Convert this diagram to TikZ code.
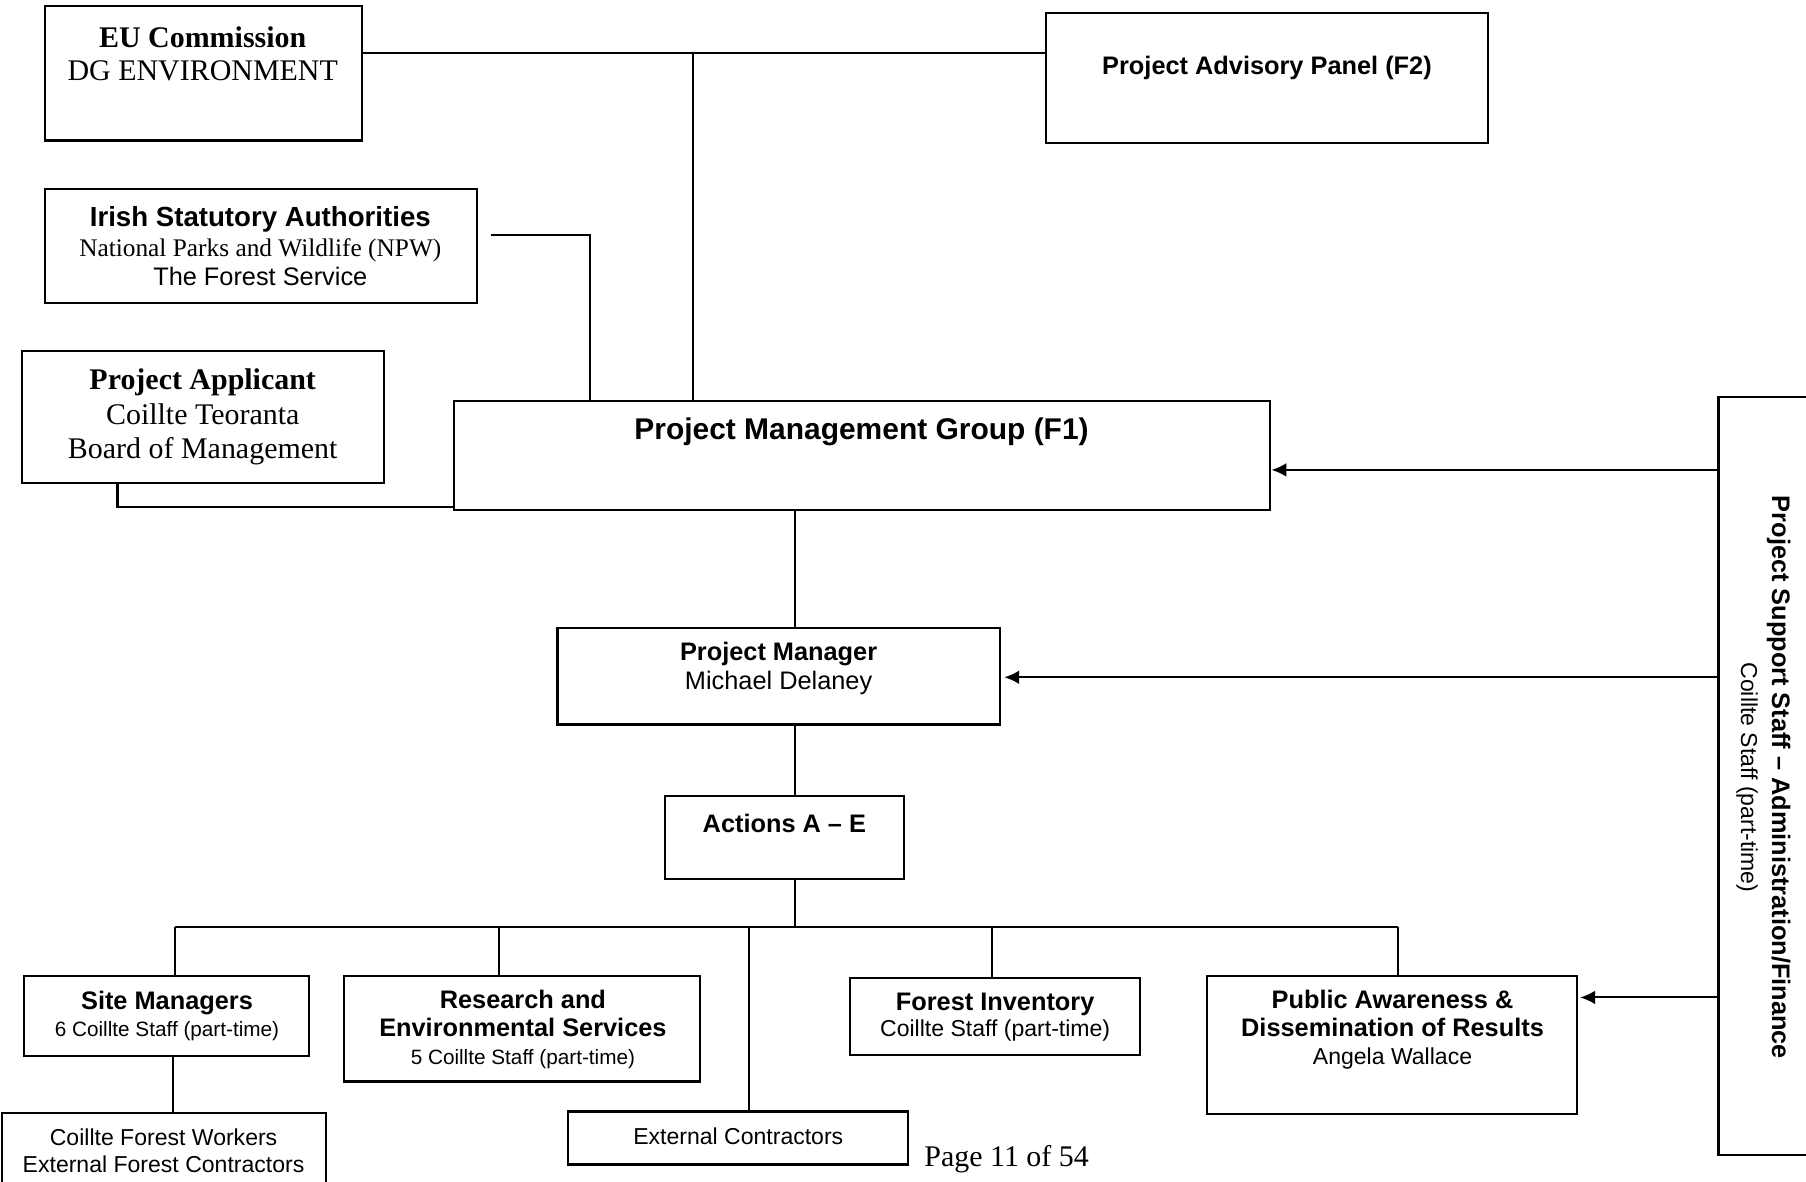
\documentclass[tikz,border=0pt]{standalone}
\usepackage{fontspec}
\setmainfont{Liberation Serif}
\setsansfont{Liberation Sans}
\usetikzlibrary{fit,arrows.meta}
\newcommand{\fsz}[2]{\fontsize{#1}{#2}\selectfont}
\begin{document}
\begin{tikzpicture}[x=0.5pt,y=-0.5pt,
  box/.style={draw, line width=0.9pt, inner sep=0pt},
  lnk/.style={line width=0.9pt},
  arr/.style={line width=0.9pt,-{Latex[length=6.5pt,width=6pt]}},
  txt/.style={align=center, inner sep=0pt}]
\clip (0,0) rectangle (1568,1026);
% boxes and texts
\node[box, fit={(39,5) (314,122)}] (eu) {};
\node[txt, font=\fsz{13}{14.5}] (euT) at (176,46.5) {\textbf{EU Commission}\\DG ENVIRONMENT};
\node[box, fit={(908,11) (1292,124)}] (adv) {};
\node[txt, font=\fsz{11}{13}\sffamily\bfseries] (advT) at (1100,59) {Project Advisory Panel (F2)};
\node[box, fit={(39,164) (414,263)}] (irish) {};
\node[txt, font=\fsz{11}{12.75}] (irishT) at (226,214) {{\sffamily\bfseries\fsz{12}{12.75}Irish Statutory Authorities}\\National Parks and Wildlife (NPW)\\{\sffamily The Forest Service}};
\node[box, fit={(19,305) (333,419)}] (app) {};
\node[txt, font=\fsz{13}{15}] (appT) at (176,362) {\textbf{Project Applicant}\\Coillte Teoranta\\Board of Management};
\node[box, fit={(394,348) (1103,443)}] (pmg) {};
\node[txt, font=\fsz{13}{15}\sffamily\bfseries] (pmgT) at (748,375) {Project Management Group (F1)};
\node[box, fit={(1492,345) (1580,1003)}] (sup) {};
\node[txt, rotate=-90, font=\fsz{10}{13.5}\sffamily] (supT) at (1531,675) {{\bfseries\fsz{11}{13.5}Project Support Staff – Administration/Finance}\\Coillte Staff (part-time)};
\node[box, fit={(484,545) (868,629)}] (pm) {};
\node[txt, font=\fsz{11}{12.5}\sffamily] (pmT) at (676,580.5) {\textbf{Project Manager}\\Michael Delaney};
\node[box, fit={(577,691) (785,763)}] (act) {};
\node[txt, font=\fsz{11}{13}\sffamily\bfseries] (actT) at (681,715) {Actions A – E};
\node[box, fit={(21,847) (268,917)}] (sm) {};
\node[txt, font=\fsz{9}{11.5}\sffamily] (smT) at (145,882) {{\bfseries\fsz{11}{11.5}Site Managers}\\6 Coillte Staff (part-time)};
\node[box, fit={(2,966) (283,1032)}] (cfw) {};
\node[txt, font=\fsz{10}{11.5}\sffamily] (cfwT) at (142,999) {Coillte Forest Workers\\External Forest Contractors};
\node[box, fit={(299,847) (608,939)}] (res) {};
\node[txt, font=\fsz{9}{12.25}\sffamily] (resT) at (454,894) {{\bfseries\fsz{11}{12.25}Research and}\\{\bfseries\fsz{11}{12.25}Environmental Services}\\5 Coillte Staff (part-time)};
\node[box, fit={(493,965) (788,1011)}] (ext) {};
\node[txt, font=\fsz{10}{12}\sffamily] (extT) at (641,986.5) {External Contractors};
\node[box, fit={(738,849) (990,916)}] (fi) {};
\node[txt, font=\fsz{10}{11.5}\sffamily] (fiT) at (864,883) {{\bfseries\fsz{11}{11.5}Forest Inventory}\\Coillte Staff (part-time)};
\node[box, fit={(1048,847) (1369,967)}] (pa) {};
\node[txt, font=\fsz{10}{12.25}\sffamily] (paT) at (1209,894) {{\bfseries\fsz{11}{12.25}Public Awareness \&}\\{\bfseries\fsz{11}{12.25}Dissemination of Results}\\Angela Wallace};
\node[txt, font=\fsz{13}{15}] (page) at (874,1006.5) {Page 11 of 54};
% connectors
\coordinate (j1) at (602,46);
\draw[lnk] (eu.east |- j1) -- (adv.west |- j1);
\draw[lnk] (j1) -- (j1 |- pmg.north);
\coordinate (j2s) at (426,204);
\coordinate (j2) at (512,204);
\draw[lnk] (j2s) -- (j2) -- (j2 |- pmg.north);
\coordinate (j3) at (102,440);
\draw[lnk] (j3 |- app.south) -- (j3) -- (pmg.west |- j3);
\coordinate (bx) at (690,805);
\draw[lnk] (pmg.south -| bx) -- (pm.north -| bx);
\draw[lnk] (pm.south -| bx) -- (act.north -| bx);
\draw[lnk] (act.south -| bx) -- (bx);
\coordinate (b1) at (152,805);
\coordinate (b2) at (433,805);
\coordinate (b3) at (650,805);
\coordinate (b4) at (861,805);
\coordinate (b5) at (1214,805);
\draw[lnk] (b1) -- (b5);
\draw[lnk] (b1) -- (b1 |- sm.north);
\draw[lnk] (b2) -- (b2 |- res.north);
\draw[lnk] (b3) -- (b3 |- ext.north);
\draw[lnk] (b4) -- (b4 |- fi.north);
\draw[lnk] (b5) -- (b5 |- pa.north);
\coordinate (c1) at (150,940);
\draw[lnk] (sm.south -| c1) -- (cfw.north -| c1);
\coordinate (a1) at (1492,408);
\coordinate (a2) at (1490,588);
\coordinate (a3) at (1492,866);
\draw[arr] (sup.west |- a1) -- (pmg.east |- a1);
\draw[arr, shorten >=1.5pt] (sup.west |- a2) -- (pm.east |- a2);
\draw[arr, shorten >=1pt] (sup.west |- a3) -- (pa.east |- a3);
\end{tikzpicture}
\end{document}
